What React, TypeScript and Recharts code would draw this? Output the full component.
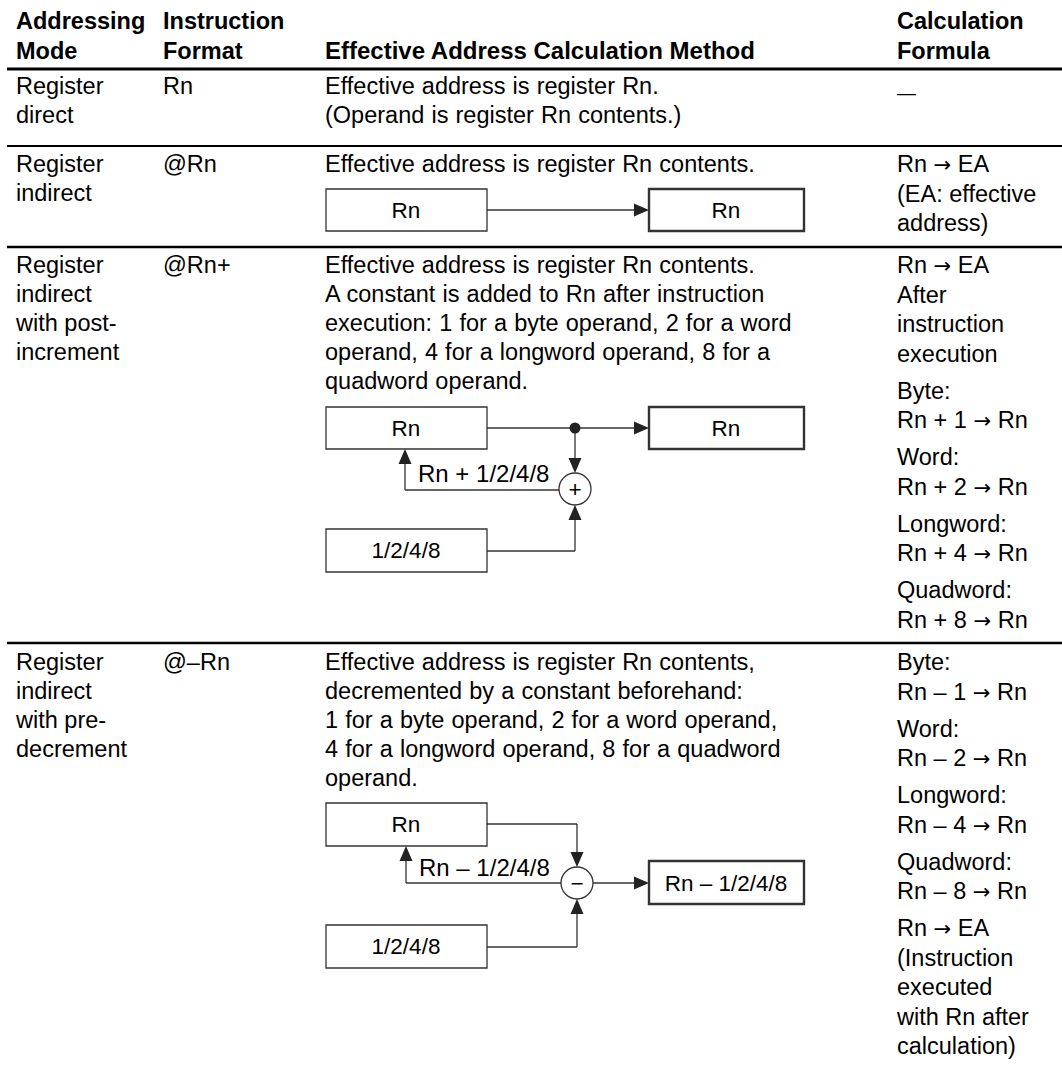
import { ScatterChart, XAxis, YAxis, Scatter, ReferenceLine, ReferenceArea, ReferenceDot } from 'recharts';

// table contents
const headerLines = [
  ['Addressing', 'Mode'],
  ['Instruction', 'Format'],
  ['', 'Effective Address Calculation Method'],
  ['Calculation', 'Formula'],
];

const modeLines = [
  ['Register', 'direct'],
  ['Register', 'indirect'],
  ['Register', 'indirect', 'with post-', 'increment'],
  ['Register', 'indirect', 'with pre-', 'decrement'],
];

const formatLabels = ['Rn', '@Rn', '@Rn+', '@–Rn'];

const methodLines = [
  ['Effective address is register Rn.', '(Operand is register Rn contents.)'],
  ['Effective address is register Rn contents.'],
  [
    'Effective address is register Rn contents.',
    'A constant is added to Rn after instruction',
    'execution: 1 for a byte operand, 2 for a word',
    'operand, 4 for a longword operand, 8 for a',
    'quadword operand.',
  ],
  [
    'Effective address is register Rn contents,',
    'decremented by a constant beforehand:',
    '1 for a byte operand, 2 for a word operand,',
    '4 for a longword operand, 8 for a quadword',
    'operand.',
  ],
];

const formulaGroups = [
  [['—']],
  [['Rn → EA', '(EA: effective', 'address)']],
  [
    ['Rn → EA', 'After', 'instruction', 'execution'],
    ['Byte:', 'Rn + 1 → Rn'],
    ['Word:', 'Rn + 2 → Rn'],
    ['Longword:', 'Rn + 4 → Rn'],
    ['Quadword:', 'Rn + 8 → Rn'],
  ],
  [
    ['Byte:', 'Rn – 1 → Rn'],
    ['Word:', 'Rn – 2 → Rn'],
    ['Longword:', 'Rn – 4 → Rn'],
    ['Quadword:', 'Rn – 8 → Rn'],
    ['Rn → EA', '(Instruction', 'executed', 'with Rn after', 'calculation)'],
  ],
];

// diagram labels
const indirectBoxes = ['Rn', 'Rn'];
const postIncBoxes = ['Rn', 'Rn', '1/2/4/8'];
const postIncLabel = 'Rn + 1/2/4/8';
const preDecBoxes = ['Rn', '1/2/4/8', 'Rn – 1/2/4/8'];
const preDecLabel = 'Rn – 1/2/4/8';
const operators = ['+', '−'];

const W = 1062;
const H = 1065;
const FONT = '"Liberation Sans", Arial, Helvetica, sans-serif';
const ARROW_FONT = '"DejaVu Sans", sans-serif';
const INK = '#000';
const LINE = '#333';

const colX = [16, 163, 325, 897];
const rules = [
  { y: 69, w: 3 },
  { y: 146, w: 2 },
  { y: 247, w: 2.5 },
  { y: 643, w: 2.5 },
];
const rowBase = [94, 172, 273, 670];
const LH = 29;
const FLH = 29.5;
const FGAP = 37;
const BODY = 23.5;
const HEAD = 23.5;
const DIAG = 22.5;
const LABEL = 24;

type TextItem = {
  x: number;
  y: number;
  text: string;
  bold?: boolean;
  size: number;
  anchor?: string;
  wordSpacing?: number;
};

function buildTexts(): TextItem[] {
  const out: TextItem[] = [];
  headerLines.forEach((lines, c) => {
    lines.forEach((t, i) => {
      if (!t) return;
      const long = c === 2;
      out.push({ x: colX[c], y: 29 + i * 30, text: t, bold: true, size: long ? 24 : HEAD });
    });
  });
  modeLines.forEach((lines, r) => {
    lines.forEach((t, i) => out.push({ x: colX[0], y: rowBase[r] + i * LH, text: t, size: BODY }));
  });
  formatLabels.forEach((t, r) => out.push({ x: colX[1], y: rowBase[r], text: t, size: BODY }));
  methodLines.forEach((lines, r) => {
    lines.forEach((t, i) =>
      out.push({ x: colX[2], y: rowBase[r] + i * LH, text: t, size: BODY, wordSpacing: 0.6 }),
    );
  });
  formulaGroups.forEach((groups, r) => {
    let y = rowBase[r];
    groups.forEach((g, gi) => {
      if (gi > 0) y += FGAP - FLH;
      g.forEach((t) => {
        if (t === '—') out.push({ x: colX[3], y: y + 5, text: t, size: 19 });
        else out.push({ x: colX[3], y, text: t, size: BODY });
        y += FLH;
      });
    });
  });

  // box captions
  out.push({ x: 406, y: 218, text: indirectBoxes[0], size: DIAG, anchor: 'middle' });
  out.push({ x: 726, y: 218, text: indirectBoxes[1], size: DIAG, anchor: 'middle' });
  out.push({ x: 406, y: 436, text: postIncBoxes[0], size: DIAG, anchor: 'middle' });
  out.push({ x: 726, y: 436, text: postIncBoxes[1], size: DIAG, anchor: 'middle' });
  out.push({ x: 406, y: 558, text: postIncBoxes[2], size: DIAG, anchor: 'middle' });
  out.push({ x: 418, y: 482, text: postIncLabel, size: LABEL });
  out.push({ x: 575, y: 497, text: operators[0], size: DIAG, anchor: 'middle' });

  out.push({ x: 406, y: 832, text: preDecBoxes[0], size: DIAG, anchor: 'middle' });
  out.push({ x: 406, y: 954, text: preDecBoxes[1], size: DIAG, anchor: 'middle' });
  out.push({ x: 726, y: 891, text: preDecBoxes[2], size: DIAG, anchor: 'middle' });
  out.push({ x: 419, y: 876, text: preDecLabel, size: LABEL });
  out.push({ x: 577, y: 891, text: operators[1], size: DIAG, anchor: 'middle' });
  return out;
}

const texts = buildTexts();

function tri(x: number, y: number, dir: 'r' | 'u' | 'd') {
  const L = 15;
  const h = 6.5;
  if (dir === 'r') return `M${x},${y} L${x - L},${y - h} L${x - L},${y + h} Z`;
  if (dir === 'u') return `M${x},${y} L${x - h},${y + L} L${x + h},${y + L} Z`;
  return `M${x},${y} L${x - h},${y - L} L${x + h},${y - L} Z`;
}

// eslint-disable-next-line @typescript-eslint/no-explicit-any
function TextShape(props: any) {
  const d: TextItem = props.payload;
  const parts = d.text.split('→');
  return (
    <text
      x={props.cx}
      y={props.cy}
      fontSize={d.size}
      fontWeight={d.bold ? 700 : 400}
      textAnchor={d.anchor || 'start'}
      fontFamily={FONT}
      wordSpacing={d.wordSpacing}
      fill={INK}
    >
      {parts.map((p, i) => (
        <tspan key={i}>
          {i > 0 && (
            <tspan fontFamily={ARROW_FONT} fontSize={d.size * 0.9}>
              →
            </tspan>
          )}
          {p}
        </tspan>
      ))}
    </text>
  );
}

const boxes = [
  { x1: 326, x2: 487, y1: 189, y2: 231, thick: false },
  { x1: 649, x2: 804, y1: 189, y2: 231, thick: true },
  { x1: 326, x2: 487, y1: 407, y2: 449, thick: false },
  { x1: 649, x2: 804, y1: 407, y2: 449, thick: true },
  { x1: 326, x2: 487, y1: 529, y2: 572, thick: false },
  { x1: 326, x2: 487, y1: 803, y2: 846, thick: false },
  { x1: 326, x2: 487, y1: 925, y2: 968, thick: false },
  { x1: 649, x2: 804, y1: 861, y2: 904, thick: true },
];

const segments: [number, number, number, number][] = [
  [487, 210, 640, 210],
  [487, 428, 640, 428],
  [575, 428, 575, 465],
  [487, 551, 575, 551],
  [575, 551, 575, 512],
  [559, 490, 405, 490],
  [405, 490, 405, 458],
  [487, 824, 577, 824],
  [577, 824, 577, 860],
  [487, 947, 577, 947],
  [577, 947, 577, 906],
  [593, 883, 640, 883],
  [561, 883, 406, 883],
  [406, 883, 406, 855],
];

const heads: { x: number; y: number; dir: 'r' | 'u' | 'd' }[] = [
  { x: 649, y: 210, dir: 'r' },
  { x: 649, y: 428, dir: 'r' },
  { x: 575, y: 473, dir: 'd' },
  { x: 575, y: 505, dir: 'u' },
  { x: 405, y: 449, dir: 'u' },
  { x: 577, y: 867, dir: 'd' },
  { x: 577, y: 899, dir: 'u' },
  { x: 649, y: 883, dir: 'r' },
  { x: 406, y: 846, dir: 'u' },
];

export default function App() {
  return (
    <div style={{ width: W, height: H, background: '#fff' }}>
      <style>{'body{margin:0;background:#fff}'}</style>
      <ScatterChart width={W} height={H} margin={{ top: 0, right: 0, bottom: 0, left: 0 }}>
        <XAxis type="number" dataKey="x" domain={[0, W]} hide allowDataOverflow />
        <YAxis type="number" dataKey="y" domain={[0, H]} reversed hide allowDataOverflow />

        {rules.map((r, i) => (
          <ReferenceLine
            key={`rule-${i}`}
            segment={[{ x: 7, y: r.y }, { x: W, y: r.y }]}
            stroke={INK}
            strokeWidth={r.w}
          />
        ))}

        {boxes.map((b, i) => (
          <ReferenceArea
            key={`box-${i}`}
            x1={b.x1}
            x2={b.x2}
            y1={b.y1}
            y2={b.y2}
            fill="#fff"
            fillOpacity={1}
            stroke={LINE}
            strokeWidth={b.thick ? 2.4 : 1.3}
          />
        ))}

        {segments.map((s, i) => (
          <ReferenceLine
            key={`seg-${i}`}
            segment={[{ x: s[0], y: s[1] }, { x: s[2], y: s[3] }]}
            stroke={LINE}
            strokeWidth={1.3}
          />
        ))}

        <ReferenceDot x={575} y={489} r={16} fill="#fff" stroke={LINE} strokeWidth={1.3} />
        <ReferenceDot x={577} y={883} r={16} fill="#fff" stroke={LINE} strokeWidth={1.3} />
        <ReferenceDot x={575} y={428} r={5.5} fill="#222" stroke="none" />

        {heads.map((h, i) => (
          <ReferenceDot
            key={`head-${i}`}
            x={h.x}
            y={h.y}
            r={1}
            // eslint-disable-next-line @typescript-eslint/no-explicit-any
            shape={(p: any) => <path d={tri(p.cx, p.cy, h.dir)} fill="#222" />}
          />
        ))}

        <Scatter data={texts} shape={<TextShape />} isAnimationActive={false} />
      </ScatterChart>
    </div>
  );
}
